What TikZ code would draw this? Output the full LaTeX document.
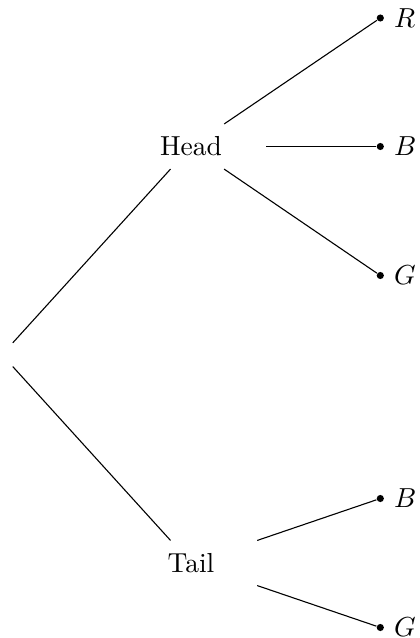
\documentclass[tikz,border=0pt]{standalone}
\begin{document}
\begin{tikzpicture}[x=0.3636pt, y=-0.3636pt,
  branch/.style={draw=none, minimum width=54.5pt, minimum height=16pt, inner sep=0pt, align=center},
  leaf/.style={circle, fill=black, inner sep=0pt, minimum size=2.6pt, label distance=1pt},
  rootpt/.style={inner sep=0pt, minimum size=8.2pt}]
\useasboundingbox (0,0) rectangle (419,638);
% root
\node[rootpt] (root) at (2,354.7) {};
% first level
\node[branch] (head) at (191,146.5) {Head};
\node[branch] (tail) at (191,563) {Tail};
% outcomes
\node[leaf, label=right:$R$] (hr) at (380.3,18) {};
\node[leaf, label=right:$B$] (hb) at (380.3,146.5) {};
\node[leaf, label=right:$G$] (hg) at (380.3,275.5) {};
\node[leaf, label=right:$B$] (tb) at (380.3,498.5) {};
\node[leaf, label=right:$G$] (tg) at (380.3,627.5) {};
% branches
\draw (root) -- (head);
\draw (root) -- (tail);
\draw (head) -- (hr);
\draw (head) -- (hb);
\draw (head) -- (hg);
\draw (tail) -- (tb);
\draw (tail) -- (tg);
\end{tikzpicture}
\end{document}
